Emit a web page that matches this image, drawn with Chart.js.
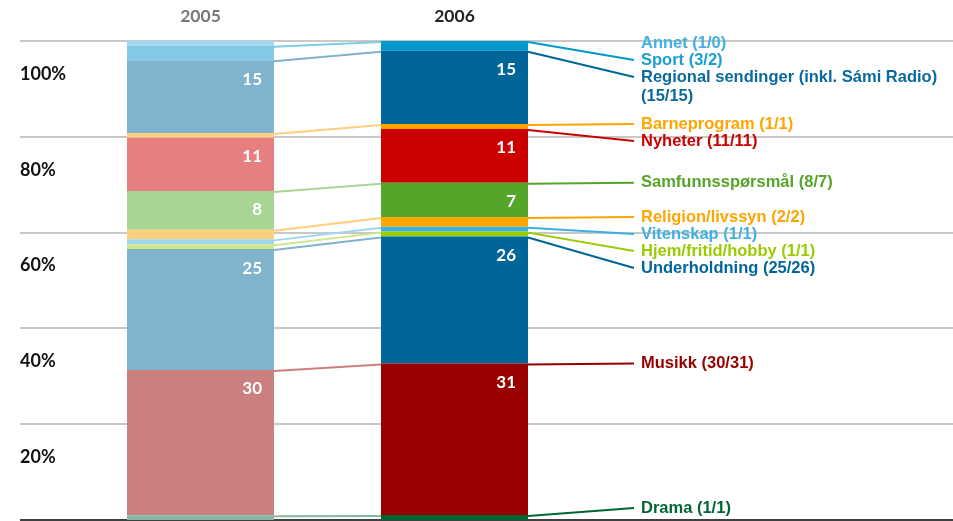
<!DOCTYPE html>
<html>
<head>
<meta charset="utf-8">
<script src="https://cdn.jsdelivr.net/npm/chart.js@4.4.1/dist/chart.umd.min.js"></script>
<style>
  html, body { margin: 0; padding: 0; background: #ffffff; }
  #wrap { width: 953px; height: 521px; position: relative; }
</style>
</head>
<body>
<div id="wrap"><canvas id="chart" width="953" height="521"></canvas></div>
<script>
// Programme genres, stacked bottom to top
const years = ['2005', '2006'];
const genres = [
  'Drama', 'Musikk', 'Underholdning', 'Hjem/fritid/hobby', 'Vitenskap',
  'Religion/livssyn', 'Samfunnsspørsmål', 'Nyheter', 'Barneprogram',
  'Regional sendinger (inkl. Sámi Radio)', 'Sport', 'Annet'
];
// Share of broadcast time, percent
const share2005 = [1, 30, 25, 1, 1, 2, 8, 11, 1, 15, 3, 1];
const share2006 = [1, 31, 26, 1, 1, 2, 7, 11, 1, 15, 2, 0];
const yTicks = [20, 40, 60, 80, 100];

// Styling
const paleColors = ['#86b8a0', '#cc7f7f', '#80b3cc', '#cfe68a', '#9ed6f0', '#ffcf80',
                    '#a8d494', '#e67f7f', '#ffcf80', '#80b3cc', '#80cae6', '#a0d8f0'];
const strongColors = ['#006633', '#990000', '#006699', '#99cc00', '#3cb0e0', '#ffa500',
                      '#55a52a', '#cc0000', '#ffa500', '#006699', '#0099cc', '#33aadd'];
const labelColors = ['#006633', '#990000', '#006699', '#99cc00', '#44b0e0', '#ffa500',
                     '#55a52a', '#cc0000', '#ffa500', '#0a6a9c', '#1a9fd0', '#44b0e0'];
const noBridge = ['Nyheter'];

// each bar adds up to 100 %
const total2005 = share2005.reduce((a, b) => a + b, 0);
const total2006 = share2006.reduce((a, b) => a + b, 0);

const datasets = genres.map((g, i) => ({
  label: g,
  data: [share2005[i] / total2005 * 100, share2006[i] / total2006 * 100],
  backgroundColor: [paleColors[i], strongColors[i]],
  borderWidth: 0,
  barPercentage: 147 / 254,
  categoryPercentage: 1
}));

const LABEL_X = 641;
const LINE_END_X = 634;
const LINE_STEP = 17;

const overlay = {
  id: 'overlay',
  beforeDatasetsDraw(chart) {
    const { ctx } = chart;
    const y = chart.scales.y;
    ctx.save();
    // grid lines across the full width
    ctx.strokeStyle = '#c8c8c8';
    ctx.lineWidth = 2;
    yTicks.forEach(t => {
      const py = Math.round(y.getPixelForValue(t));
      ctx.beginPath();
      ctx.moveTo(20, py);
      ctx.lineTo(953, py);
      ctx.stroke();
    });
    // baseline
    ctx.strokeStyle = '#000000';
    ctx.lineWidth = 1.5;
    const by = y.getPixelForValue(0);
    ctx.beginPath();
    ctx.moveTo(20, by);
    ctx.lineTo(953, by);
    ctx.stroke();
    // percent labels sit inside the band below each line
    ctx.fillStyle = '#111111';
    ctx.font = 'bold 18px Lato';
    ctx.textAlign = 'left';
    ctx.textBaseline = 'middle';
    yTicks.forEach(t => ctx.fillText(t + '%', 20, y.getPixelForValue(t) + 33));
    ctx.restore();
  },
  afterDatasetsDraw(chart) {
    const { ctx } = chart;
    ctx.save();

    // year headings
    const x = chart.scales.x;
    ctx.font = 'bold 17.5px Lato';
    ctx.textAlign = 'center';
    ctx.textBaseline = 'middle';
    years.forEach((yr, j) => {
      ctx.fillStyle = j === 0 ? '#777777' : '#222222';
      ctx.fillText(yr, x.getPixelForValue(j), 16);
    });

    const bars = genres.map((g, i) => chart.getDatasetMeta(i).data);

    // bridges between the two bars
    ctx.lineWidth = 2;
    genres.forEach((g, i) => {
      if (share2005[i] === 0 || share2006[i] === 0 || noBridge.includes(g)) return;
      const a = bars[i][0], b = bars[i][1];
      ctx.strokeStyle = paleColors[i];
      ctx.beginPath();
      ctx.moveTo(a.x + a.width / 2, a.y + 1);
      ctx.lineTo(b.x - b.width / 2, b.y + 1);
      ctx.stroke();
    });

    // value labels inside the larger segments
    ctx.font = 'bold 17px Lato';
    ctx.textAlign = 'right';
    ctx.fillStyle = '#ffffff';
    genres.forEach((g, i) => {
      [share2005[i], share2006[i]].forEach((v, j) => {
        if (v < 5) return;
        const el = bars[i][j];
        ctx.fillText(String(v), el.x + el.width / 2 - 12, el.y + 19);
      });
    });

    // genre labels on the right, spread so they do not overlap
    ctx.font = 'bold 16.5px "Liberation Sans", Arial, sans-serif';
    ctx.textAlign = 'left';
    const maxW = 953 - LABEL_X - 4;
    const items = genres.map((g, i) => {
      const counts = '(' + share2005[i] + '/' + share2006[i] + ')';
      const full = g + ' ' + counts;
      const lines = ctx.measureText(full).width > maxW ? [g, counts] : [full];
      return { i, lines, want: bars[i][1].y };
    }).reverse();

    const top = chart.chartArea.top + 2;
    const bottom = chart.chartArea.bottom - 12;
    let next = top;
    items.forEach(it => {
      it.y = Math.max(it.want, next);
      next = it.y + LINE_STEP * it.lines.length + (it.lines.length > 1 ? 2 : 0);
    });
    let limit = bottom;
    for (let k = items.length - 1; k >= 0; k--) {
      const it = items[k];
      const span = LINE_STEP * (it.lines.length - 1);
      if (it.y + span > limit) it.y = limit - span;
      limit = it.y - LINE_STEP;
    }

    items.forEach(it => {
      const i = it.i;
      const el = bars[i][1];
      if (share2006[i] > 0) {
        ctx.strokeStyle = strongColors[i];
        ctx.lineWidth = 2;
        ctx.beginPath();
        ctx.moveTo(el.x + el.width / 2, el.y + 1);
        ctx.lineTo(LINE_END_X, it.y);
        ctx.stroke();
      }
      ctx.fillStyle = labelColors[i];
      it.lines.forEach((ln, k) => ctx.fillText(ln, LABEL_X, it.y + k * (LINE_STEP + 2)));
    });

    ctx.restore();
  }
};

new Chart(document.getElementById('chart'), {
  type: 'bar',
  data: { labels: years, datasets },
  options: {
    responsive: false,
    animation: false,
    devicePixelRatio: 1,
    layout: { padding: { left: 73.5, right: 371.5, top: 41, bottom: 1 } },
    plugins: { legend: { display: false }, tooltip: { enabled: false } },
    scales: {
      x: { display: false, stacked: true },
      y: { display: false, stacked: true, min: 0, max: 100 }
    }
  },
  plugins: [overlay]
});
</script>
</body>
</html>
